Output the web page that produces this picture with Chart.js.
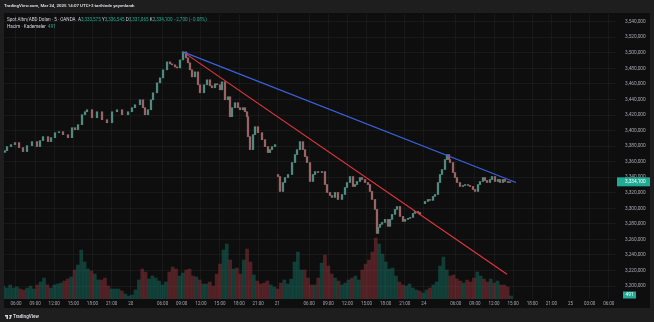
<!DOCTYPE html>
<html lang="tr">
<head>
<meta charset="UTF-8">
<title>Spot Altın/ABD Doları · 5</title>
<script src="https://cdn.jsdelivr.net/npm/chart.js@4"></script>
<style>
  html, body { margin: 0; padding: 0; background: #1e1e1e; }
  body { width: 654px; height: 322px; position: relative; overflow: hidden; font-family: Roboto, "Liberation Sans", Arial, sans-serif; }
  #chart { position: absolute; left: 0; top: 0; }
  .topbar { position: absolute; left: 4px; top: 3px; font-size: 4.4px; font-weight: bold; color: #d1d4dc; white-space: nowrap; }
  .legend { position: absolute; left: 7px; font-size: 4.6px; color: #d1d4dc; white-space: nowrap; }
  .legend .v { color: #22ab94; }
  .row1 { top: 16.5px; }
  .row2 { top: 24px; }
  .logo { position: absolute; left: 5px; top: 313.5px; font-size: 4.6px; font-weight: bold; color: #d1d4dc; white-space: nowrap; }
  .logo svg { vertical-align: -1px; margin-right: 1px; }
</style>
</head>
<body>

<canvas id="chart" width="654" height="322"></canvas>

<div class="topbar">TradingView.com, Mar 24, 2025 14:07 UTC+3 tarihinde yayımlandı</div>
<div class="legend row1">Spot Altın/ABD Doları · 5 · OANDA &nbsp;A<span class="v">3,333,575</span> Y<span class="v">3,336,545</span> D<span class="v">3,331,065</span> K<span class="v">3,334,100</span> <span class="v">−2,700 (−0.08%)</span></div>
<div class="legend row2">Hacim · Kademeler &nbsp;<span class="v">491</span></div>
<div class="logo"><svg width="7" height="4" viewBox="0 0 14 8"><path d="M0 0h6v8H3V3H0z M8 0a1.6 1.6 0 1 1 0 .1z M11 0h3l-3 8H8z" fill="#d1d4dc"/></svg>TradingView</div>

<script>
  // zaman ekseni: saat cinsinden, 20 Mart seans açılışı (01:00) = 0
  const tickHours = [-18, -15, -12, -9, -6, -3, 0, 5, 8, 11, 14, 17, 20, 23, 28, 31, 34, 37, 40, 43, 46, 51, 54, 57, 60, 63, 66, 69, 72, 75];
  const tickLabels = ['06:00', '09:00', '12:00', '15:00', '18:00', '21:00', '20', '06:00', '09:00', '12:00', '15:00', '18:00', '21:00', '21',
                      '06:00', '09:00', '12:00', '15:00', '18:00', '21:00', '24', '06:00', '09:00', '12:00', '15:00', '18:00', '21:00', '25', '03:00', '06:00'];
  const priceTicks = [3540000, 3520000, 3500000, 3480000, 3460000, 3440000, 3420000, 3400000, 3380000,
                      3360000, 3340000, 3320000, 3300000, 3280000, 3260000, 3240000, 3220000, 3200000];

  // 1. seans (19-20 Mart)
  const sessionAOpen = 3372000;
  const sessionATimes = [-19.72, -19.41, -18.78, -18.15, -17.52, -16.90, -16.27, -15.49, -14.70, -14.23, -13.76, -12.97, -12.50, -11.88, -11.25,
    -10.62, -9.84, -9.21, -8.74, -8.27, -7.64, -7.17, -6.86, -6.07, -5.29, -4.50, -3.72, -2.93, -2.15, -1.36, -0.42, 0.20, 0.67, 1.46, 1.93,
    2.24, 2.71, 3.18, 3.50, 4.13, 4.60, 5.07, 5.70, 6.17, 6.48, 6.95, 7.26, 7.73, 8.21, 8.68, 8.99, 9.30, 9.62, 10.09, 10.56, 10.87, 11.50,
    11.97, 12.44, 12.76, 13.23, 13.54, 14.01, 14.32, 14.79, 15.27, 15.58, 15.89, 16.36, 16.83, 17.15, 17.62, 17.93, 18.25, 18.40, 18.72,
    19.19, 19.50, 19.97, 20.60, 21.07, 21.54, 21.85, 22.17, 22.64];
  const sessionACloses = [3374200, 3379400, 3381900, 3384500, 3378100, 3373000, 3380600, 3385800, 3379400, 3387100, 3392200, 3385800, 3390900,
    3397300, 3398600, 3394700, 3390900, 3403700, 3401200, 3407600, 3420400, 3424200, 3426800, 3416500, 3424200, 3414000, 3410100, 3424200,
    3426800, 3420400, 3424200, 3429400, 3433200, 3439600, 3429400, 3420400, 3426800, 3439600, 3448600, 3461400, 3467800, 3478100, 3488300,
    3485800, 3484500, 3481900, 3480600, 3490900, 3501200, 3493500, 3487100, 3478100, 3469100, 3475500, 3458900, 3448600, 3458900, 3465300,
    3457600, 3455000, 3460100, 3458900, 3452400, 3462700, 3439600, 3443500, 3417800, 3429400, 3435800, 3429400, 3426800, 3429400, 3424200,
    3417800, 3392200, 3375500, 3394700, 3405000, 3397300, 3388300, 3379400, 3371700, 3375500, 3379400, 3381900];

  // 2. seans (21 Mart)
  const sessionBOpen = 3343500;
  const sessionBTimes = [23.11, 23.42, 23.89, 24.21, 24.68, 25.31, 25.78, 26.09, 26.56, 27.03, 27.35, 27.66, 28.13, 28.60, 28.92, 29.39,
    30.01, 30.48, 30.80, 31.27, 31.58, 32.05, 32.52, 33.15, 33.62, 33.94, 34.41, 34.88, 35.19, 35.50, 35.97, 36.29, 36.76, 37.23, 37.54,
    37.86, 38.33, 38.64, 38.80, 39.11, 39.43, 39.90, 40.37, 40.68, 41.00, 41.47, 41.78, 42.25, 42.72, 43.04, 43.51, 43.82, 44.29, 44.60,
    45.07, 45.39];
  const sessionBCloses = [3340900, 3321700, 3333200, 3339600, 3343500, 3358900, 3369100, 3375500, 3385800, 3375500, 3366500, 3358900,
    3334500, 3343500, 3347300, 3346000, 3347300, 3330600, 3320400, 3316500, 3314000, 3320400, 3311400, 3317800, 3326800, 3333200, 3340900,
    3328100, 3330600, 3334500, 3339600, 3337100, 3333200, 3330600, 3321700, 3311400, 3298600, 3267800, 3275500, 3279400, 3281900, 3285800,
    3276800, 3285800, 3292200, 3298600, 3302400, 3289600, 3283200, 3285800, 3287100, 3288300, 3293500, 3296000, 3294700, 3292200];

  // 3. seans (24 Mart)
  const sessionCOpen = 3306000;
  const sessionCTimes = [46.17, 46.64, 46.96, 47.43, 47.74, 48.21, 48.53, 48.84, 49.31, 49.62, 49.94, 50.10, 50.57, 50.88, 51.19, 51.66,
    52.13, 52.45, 52.92, 53.23, 53.70, 54.02, 54.49, 54.80, 55.27, 55.58, 55.90, 56.37, 56.68, 57.15, 57.62, 57.94, 58.41, 58.72, 59.19, 59.51];
  const sessionCCloses = [3308900, 3311400, 3310200, 3315300, 3317800, 3333200, 3343500, 3349900, 3362700, 3369100, 3362700, 3358900,
    3346000, 3339600, 3333200, 3328100, 3329400, 3330600, 3329400, 3328100, 3324200, 3321700, 3330600, 3334500, 3339600, 3335800, 3333200,
    3337100, 3340900, 3334500, 3337100, 3333200, 3337100, 3334500, 3333200, 3334100];

  // hacim: yarım saate yakın aralıklarla
  const volStart = -19.97;
  const volStep = 0.531;
  const volumes = [2130, 1800, 2300, 1800, 1970, 1640, 1480, 1800, 2130, 1640, 2300, 2790, 3440, 2300, 1800, 2300, 2460, 2620, 2950, 3280,
    3610, 4760, 5580, 8040, 6070, 4920, 4590, 4100, 3120, 3120, 3440, 2130, 1640, 1640, 1640, 1310, 820, 490, 660, 1480, 3120, 4920, 4430,
    3280, 3770, 3440, 2950, 2300, 2790, 4430, 5250, 4920, 3770, 4260, 4760, 4920, 3770, 3610, 3120, 2460, 2460, 2790, 2130, 4100, 5740,
    8040, 9020, 6400, 4920, 5080, 4100, 6400, 8200, 6070, 3940, 2950, 2460, 2620, 2950, 2300, 1970, 1640, 2620, 3120, 2460, 3280, 6070,
    7710, 4760, 4760, 3440, 2300, 2300, 3440, 5900, 7220, 5410, 4100, 3440, 2950, 2300, 2620, 3120, 3440, 3770, 3120, 4760, 5740, 6400,
    7710, 10000, 9020, 7380, 6070, 4920, 5080, 3770, 2790, 2300, 2130, 2460, 1800, 1480, 1310, 980, 1480, 1800, 2300, 2790, 5410, 6890,
    4760, 3770, 3940, 3280, 2950, 2620, 3120, 2790, 3440, 4430, 3770, 3280, 2790, 3280, 2620, 2950, 2300, 2300, 1970, 491];

  // trend çizgileri (zirveden)
  const blueLineTimes = [8.21, 60.45];
  const blueLinePrices = [3501200, 3333200];
  const redLineTimes = [8.21, 59.04];
  const redLinePrices = [3501200, 3215300];

  const upColor = '#4f8a7f';
  const downColor = '#9a6467';
  const tagUp = '#22ab94';
  const tagDown = '#f23645';

  // mumlar: açılış = önceki kapanış
  function buildCandles(open, times, closes) {
    const out = [];
    let prev = open;
    times.forEach((t, i) => {
      out.push({ x: t, y: [prev, closes[i]], up: closes[i] >= prev });
      prev = closes[i];
    });
    return out;
  }
  const candles = [].concat(
    buildCandles(sessionAOpen, sessionATimes, sessionACloses),
    buildCandles(sessionBOpen, sessionBTimes, sessionBCloses),
    buildCandles(sessionCOpen, sessionCTimes, sessionCCloses)
  );
  const lastCandle = candles[candles.length - 1];
  const lastClose = lastCandle.y[1];

  // hacim çubuğunun rengi en yakın mumun yönünden
  function nearestUp(t) {
    let best = candles[0], d = Infinity;
    candles.forEach(c => {
      const dd = Math.abs(c.x - t);
      if (dd < d) { d = dd; best = c; }
    });
    return best.up;
  }
  const volData = volumes.map((v, i) => {
    const t = volStart + i * volStep;
    return { x: t, y: v, up: nearestUp(t) };
  });
  const lastVolume = volumes[volumes.length - 1];

  const bgPlugin = {
    id: 'bg',
    beforeDraw(chart) {
      const c = chart.ctx;
      c.save();
      c.fillStyle = '#1e1e1e';
      c.fillRect(0, 0, chart.width, chart.height);
      c.fillStyle = '#0e0e0e';
      c.fillRect(4, 13, 646, 295);
      c.restore();
    }
  };

  // sağ eksende son fiyat ve hacim etiketleri
  const tagPlugin = {
    id: 'tags',
    afterDraw(chart) {
      const c = chart.ctx;
      const area = chart.chartArea;
      const y = chart.scales.y.getPixelForValue(lastClose);
      c.save();
      c.fillStyle = lastCandle.up ? tagUp : tagDown;
      c.fillRect(area.right + 1, y - 4.5, 33, 9);
      c.fillStyle = '#ffffff';
      c.font = '4.8px Roboto';
      c.textBaseline = 'middle';
      c.fillText(lastClose.toLocaleString('en-US'), area.right + 9, y + 0.3);

      const vy = Math.min(chart.scales.vol.getPixelForValue(lastVolume), area.bottom - 4);
      c.fillStyle = tagUp;
      c.fillRect(area.right + 7, vy - 3.5, 13, 7);
      c.fillStyle = '#ffffff';
      c.fillText(lastVolume.toLocaleString('en-US'), area.right + 9.5, vy + 0.3);
      c.restore();
    }
  };

  new Chart(document.getElementById('chart'), {
    type: 'bar',
    data: {
      datasets: [
        {
          type: 'line',
          label: 'trend mavi',
          data: blueLineTimes.map((t, i) => ({ x: t, y: blueLinePrices[i] })),
          borderColor: '#3a62e0',
          borderWidth: 1.2,
          pointRadius: 0,
          order: 1
        },
        {
          type: 'line',
          label: 'trend kırmızı',
          data: redLineTimes.map((t, i) => ({ x: t, y: redLinePrices[i] })),
          borderColor: '#e0353f',
          borderWidth: 1.2,
          pointRadius: 0,
          order: 1
        },
        {
          type: 'bar',
          label: 'mumlar',
          data: candles,
          backgroundColor: ctx => (ctx.raw && ctx.raw.up) ? upColor : downColor,
          barThickness: 1.6,
          grouped: false,
          yAxisID: 'y',
          order: 2
        },
        {
          type: 'bar',
          label: 'hacim',
          data: volData,
          backgroundColor: ctx => (ctx.raw && ctx.raw.up) ? 'rgba(24,140,120,0.38)' : 'rgba(178,60,70,0.4)',
          barThickness: 3,
          grouped: false,
          yAxisID: 'vol',
          order: 3
        }
      ]
    },
    options: {
      responsive: false,
      animation: false,
      layout: { padding: { left: 4, top: 14, right: 4, bottom: 14 } },
      plugins: {
        legend: { display: false },
        tooltip: { enabled: false }
      },
      scales: {
        x: {
          type: 'linear',
          min: -19.88,
          max: 76.14,
          offset: false,
          grid: { color: 'rgba(255,255,255,0.045)', drawTicks: false, offset: false },
          border: { display: false },
          afterBuildTicks: scale => { scale.ticks = tickHours.map(v => ({ value: v })); },
          afterFit: scale => { scale.height = 9; },
          ticks: {
            autoSkip: false,
            maxRotation: 0,
            padding: 2.5,
            color: '#a3a6af',
            font: { family: 'Roboto', size: 4.5 },
            callback: (v, i) => tickLabels[i]
          }
        },
        y: {
          position: 'right',
          min: 3183400,
          max: 3549900,
          grid: { color: 'rgba(255,255,255,0.045)', drawTicks: false },
          border: { display: false },
          afterBuildTicks: scale => { scale.ticks = priceTicks.map(v => ({ value: v })); },
          afterFit: scale => { scale.width = 34; },
          ticks: {
            padding: 9,
            color: '#a3a6af',
            font: { family: 'Roboto', size: 4.8 },
            callback: v => v.toLocaleString('en-US')
          }
        },
        vol: {
          display: false,
          min: 0,
          max: 46800
        }
      }
    },
    plugins: [bgPlugin, tagPlugin]
  });
</script>

</body>
</html>
